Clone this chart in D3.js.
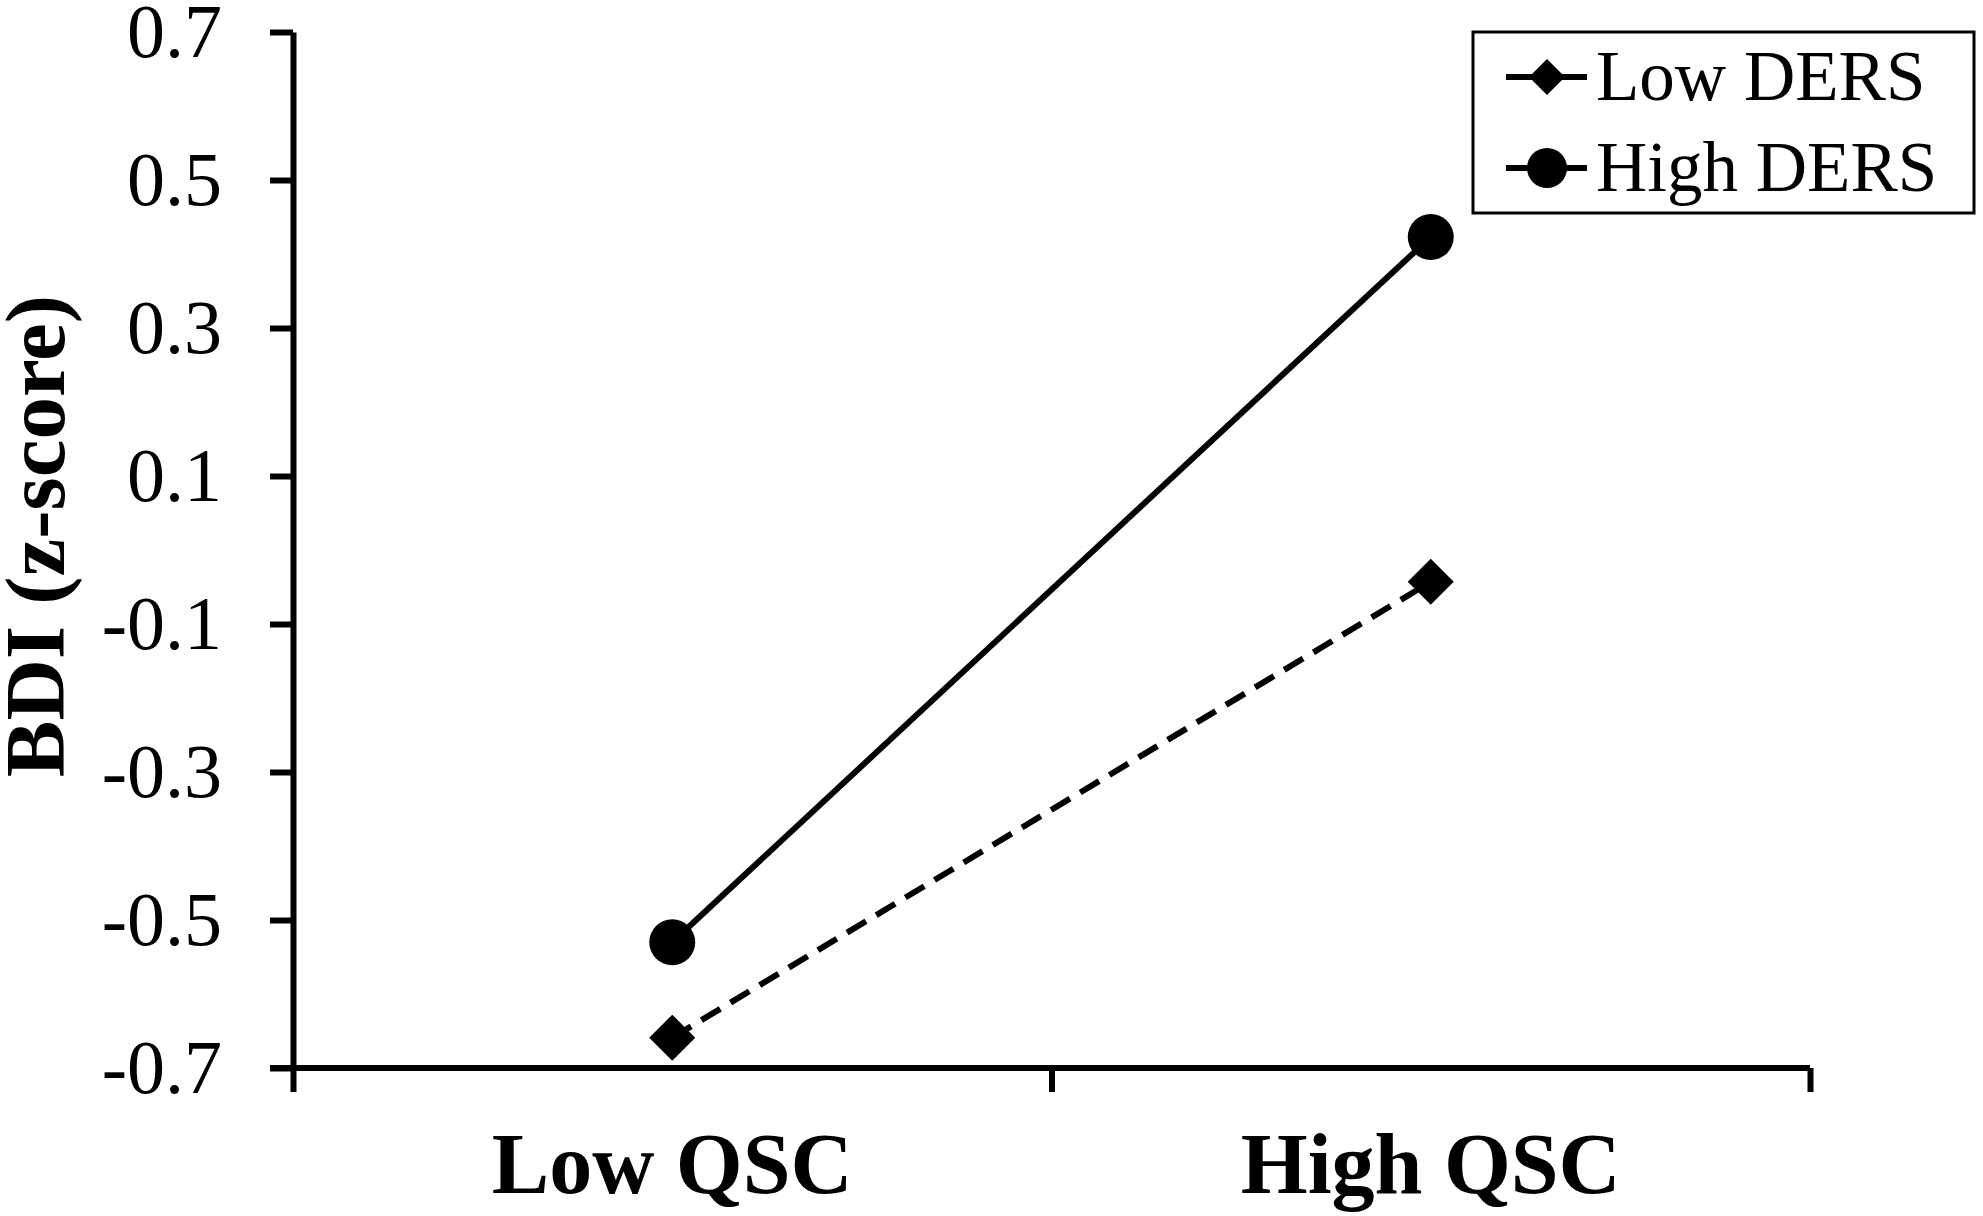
<!DOCTYPE html>
<html>
<head>
<meta charset="utf-8">
<script src="https://cdn.jsdelivr.net/npm/d3@7"></script>
<style>
  body { margin: 0; background: #fff; }
  svg text { font-family: "Liberation Serif", "Times New Roman", serif; fill: #000; }
</style>
</head>
<body>
<svg id="drawing_region"></svg>
<script>
// chart values
const categories = ['Low QSC', 'High QSC'];
const seriesNames = ['Low DERS', 'High DERS'];
const lowDers = [-0.659, -0.043];
const highDers = [-0.530, 0.423];
const yTicks = [0.7, 0.5, 0.3, 0.1, -0.1, -0.3, -0.5, -0.7];
const yTitle = 'BDI (z-score)';

const config = {
  width: 1983,
  height: 1216,
  margin: { top: 32, right: 173, bottom: 148, left: 293 }
};

const svg = d3.select('#drawing_region')
  .attr('width', config.width)
  .attr('height', config.height);

const inner_width = config.width - config.margin.left - config.margin.right;
const inner_height = config.height - config.margin.top - config.margin.bottom;

const chart = svg.append('g')
  .attr('transform', `translate(${config.margin.left}, ${config.margin.top})`);

// scales
const xscale = d3.scaleBand().domain(categories).range([0, inner_width]);
const yscale = d3.scaleLinear().domain([-0.7, 0.7]).range([inner_height, 0]);
// boundary ticks of the category axis
const xedge = d3.scaleLinear().domain([0, categories.length]).range([0, inner_width]);

// y axis
const yaxis = d3.axisLeft(yscale)
  .tickValues(yTicks)
  .tickFormat(d => d3.format('.1f')(d).replace('\u2212', '-'))
  .tickSizeInner(23).tickSizeOuter(0).tickPadding(48);
const yaxis_group = chart.append('g').call(yaxis);
yaxis_group.selectAll('path, line').attr('stroke', '#000').attr('stroke-width', 6);
yaxis_group.selectAll('text').attr('font-size', 76).attr('font-family', 'Liberation Serif');

// x axis: boundary ticks, then labels
const xaxis_group = chart.append('g')
  .attr('transform', `translate(0, ${inner_height})`)
  .call(d3.axisBottom(xedge).ticks(categories.length).tickFormat('').tickSizeInner(24).tickSizeOuter(0));
xaxis_group.select('.domain').attr('d', `M-23,0H${inner_width}`);
xaxis_group.selectAll('path, line').attr('stroke', '#000').attr('stroke-width', 6);

const xlabel_group = chart.append('g')
  .attr('transform', `translate(0, ${inner_height})`)
  .call(d3.axisBottom(xscale).tickSize(0).tickPadding(0));
xlabel_group.select('.domain').remove();
xlabel_group.selectAll('text')
  .attr('dy', null).attr('y', 125)
  .attr('font-size', 86).attr('font-weight', 'bold')
  .attr('font-family', 'Liberation Serif');

// y title
svg.append('text')
  .attr('transform', 'translate(64, 536) rotate(-90)')
  .attr('text-anchor', 'middle')
  .attr('font-size', 85)
  .attr('font-weight', 'bold')
  .text(yTitle);

// series
const line = d3.line()
  .x((d, i) => xscale(categories[i]) + xscale.bandwidth() / 2)
  .y(d => yscale(d));

const diamond = d3.symbol().type(d3.symbolSquare);

chart.append('path')
  .attr('d', line(lowDers))
  .attr('fill', 'none').attr('stroke', '#000')
  .attr('stroke-width', 6).attr('stroke-dasharray', '22,12');

chart.append('path')
  .attr('d', line(highDers))
  .attr('fill', 'none').attr('stroke', '#000')
  .attr('stroke-width', 6);

chart.selectAll('.low-mark').data(lowDers).join('path')
  .attr('class', 'low-mark')
  .attr('d', diamond.size(1060)())
  .attr('transform', (d, i) => `translate(${xscale(categories[i]) + xscale.bandwidth() / 2}, ${yscale(d)}) rotate(45)`)
  .attr('fill', '#000');

chart.selectAll('.high-mark').data(highDers).join('circle')
  .attr('class', 'high-mark')
  .attr('cx', (d, i) => xscale(categories[i]) + xscale.bandwidth() / 2)
  .attr('cy', d => yscale(d))
  .attr('r', 23)
  .attr('fill', '#000');

// legend
const legend = svg.append('g').attr('transform', 'translate(1473, 32)');
legend.append('rect')
  .attr('width', 501).attr('height', 181)
  .attr('fill', '#fff').attr('stroke', '#000').attr('stroke-width', 3);

const rows = legend.selectAll('.row').data(seriesNames).join('g')
  .attr('class', 'row')
  .attr('transform', (d, i) => `translate(0, ${45 + i * 91})`);
rows.append('line')
  .attr('x1', 33).attr('x2', 114)
  .attr('stroke', '#000').attr('stroke-width', 6);
rows.filter((d, i) => i === 0).append('path')
  .attr('d', diamond.size(650)())
  .attr('transform', 'translate(74, 0) rotate(45)')
  .attr('fill', '#000');
rows.filter((d, i) => i === 1).append('circle')
  .attr('cx', 74).attr('r', 20).attr('fill', '#000');
rows.append('text')
  .attr('x', 123).attr('y', 23)
  .attr('font-size', 71)
  .text(d => d);
</script>
</body>
</html>
